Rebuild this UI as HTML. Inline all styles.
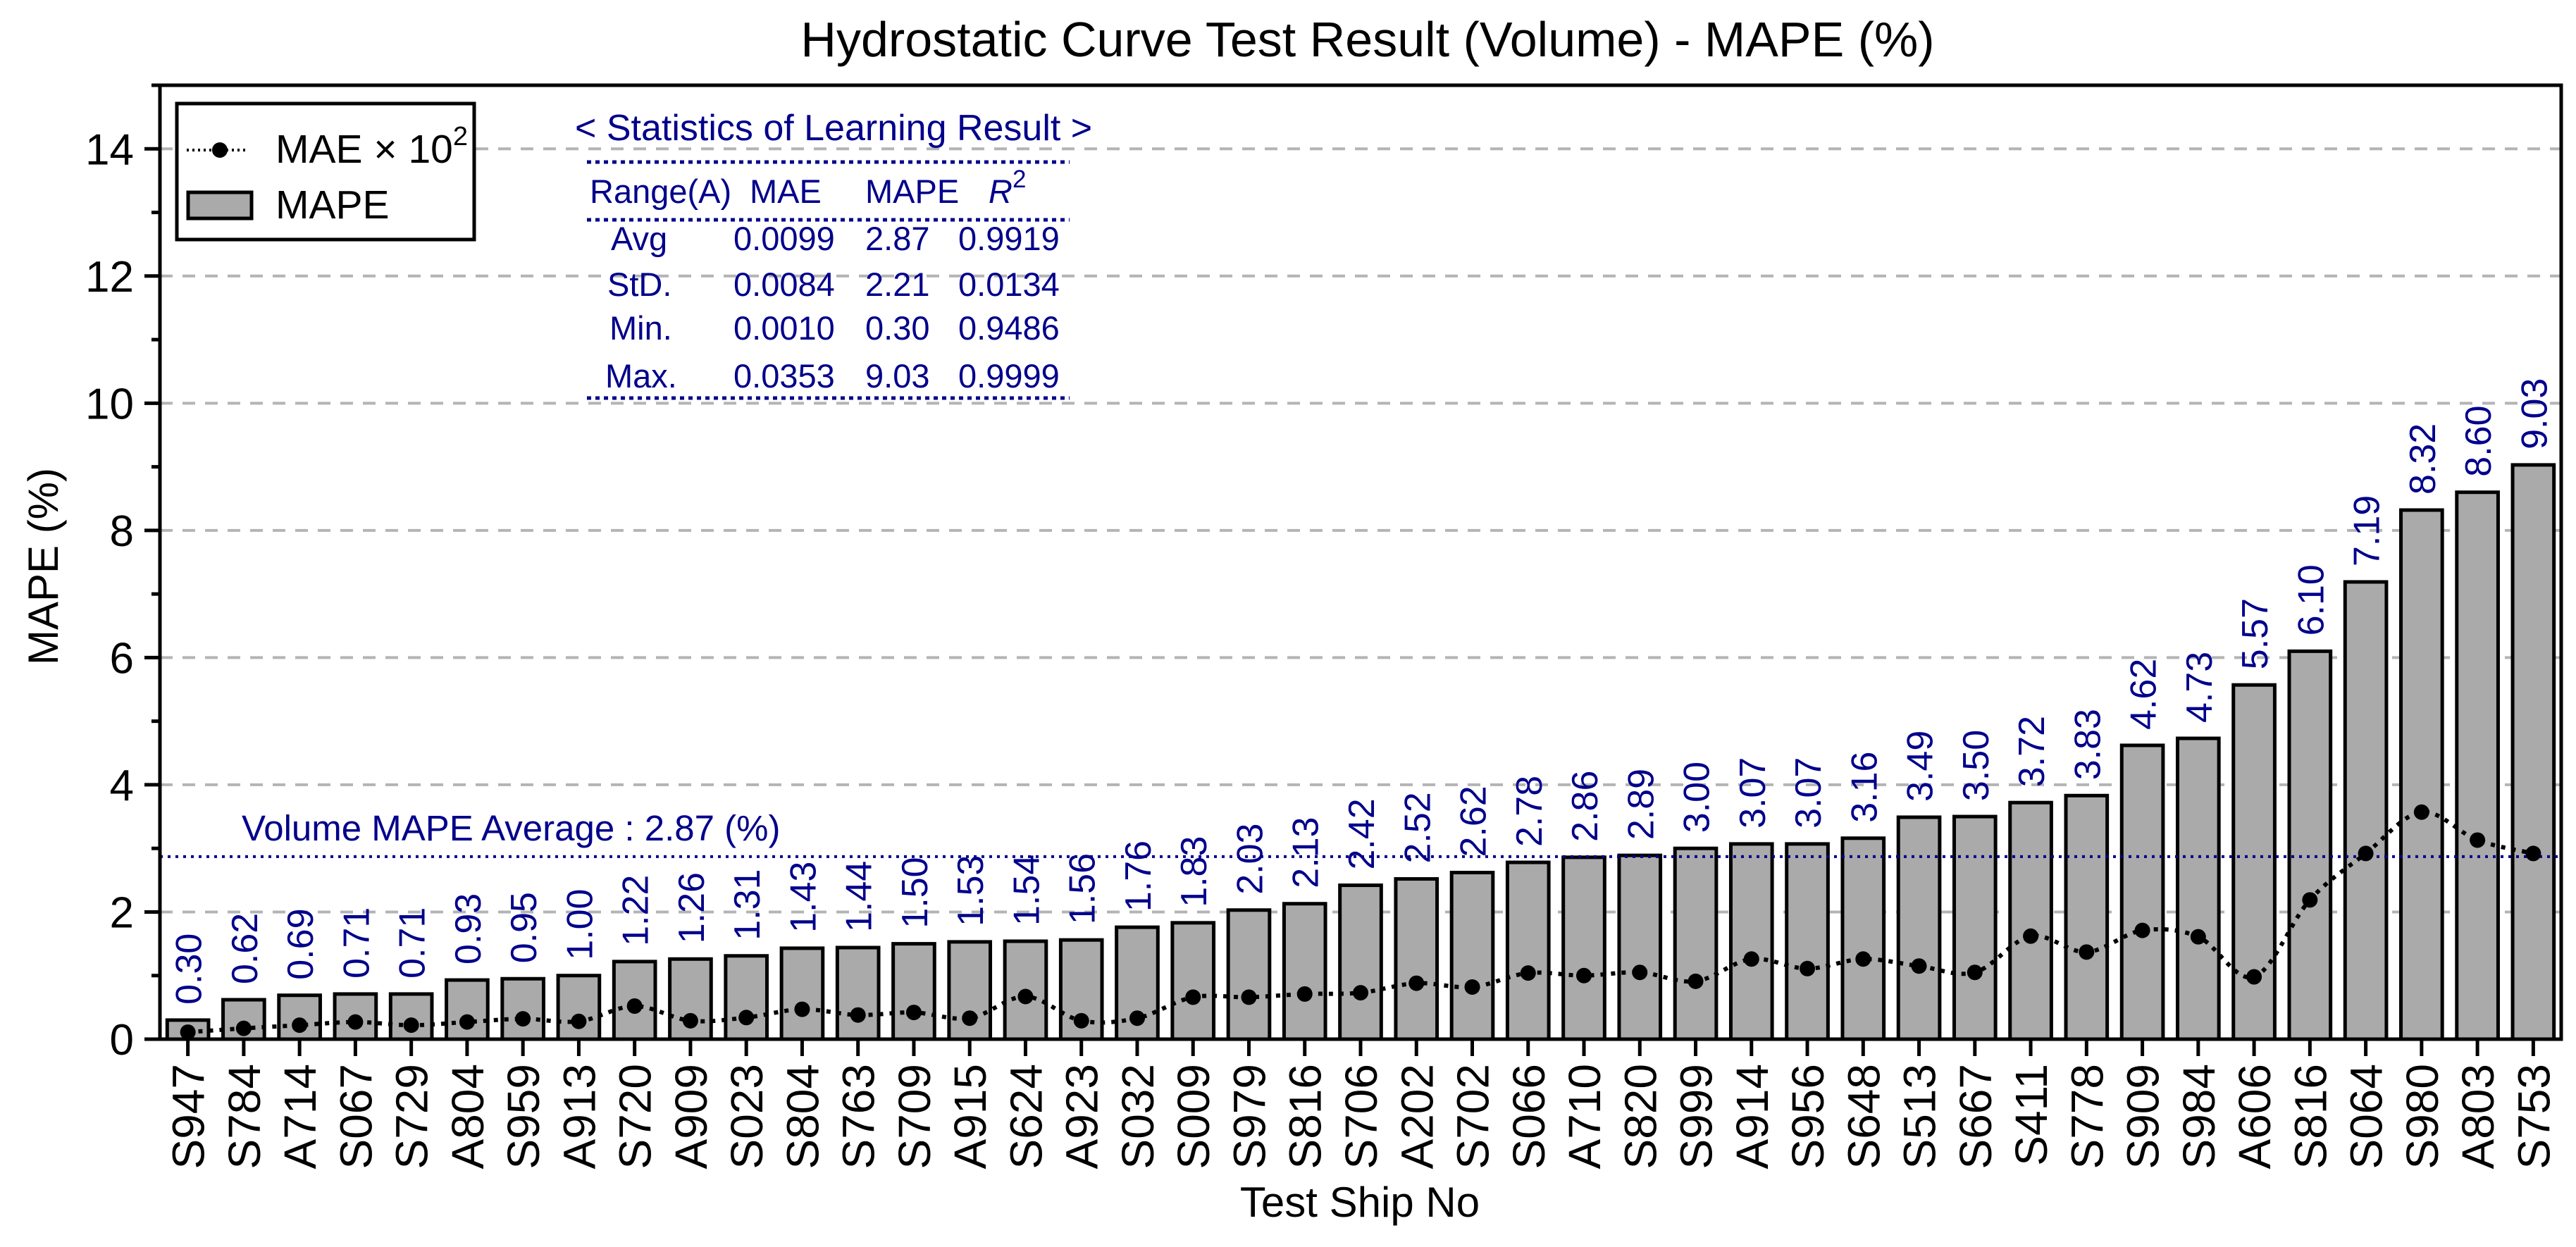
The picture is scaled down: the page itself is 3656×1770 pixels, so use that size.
<!DOCTYPE html>
<html><head><meta charset="utf-8"><style>
html,body{margin:0;padding:0;background:#fff}
svg{display:block;font-family:"Liberation Sans",Arial,sans-serif}
</style></head><body>
<svg id="chart" width="3656" height="1770" viewBox="0 0 3656 1770" xmlns="http://www.w3.org/2000/svg">
<rect x="0" y="0" width="3656" height="1770" fill="#fff"/>
<text x="1941" y="80" font-size="70" text-anchor="middle" fill="#000">Hydrostatic Curve Test Result (Volume) - MAPE (%)</text>
<g id="grid"></g>
<g id="bars"></g>
<g id="avg"></g>
<g id="mae"></g>
<g id="labels"></g>
<g id="axes"></g>
<text transform="translate(82,804) rotate(-90)" font-size="60" text-anchor="middle">MAPE (%)</text>
<text x="1930" y="1727" font-size="60" text-anchor="middle">Test Ship No</text>
<g>
<rect x="251" y="147" width="422" height="193" fill="#fff" stroke="#000" stroke-width="5"/>
<line x1="265" y1="213" x2="352" y2="213" stroke="#000" stroke-width="4" stroke-dasharray="3,5"/>
<circle cx="312" cy="213" r="11" fill="#000"/>
<text x="391" y="231" font-size="57">MAE × 10<tspan dy="-25" font-size="38">2</tspan></text>
<rect x="267" y="273" width="90" height="37" fill="#aaa" stroke="#000" stroke-width="5"/>
<text x="391" y="310" font-size="57">MAPE</text>
</g>
<g fill="#00008B" font-size="47">
<text x="816" y="199" font-size="52">&lt; Statistics of Learning Result &gt;</text>
<line x1="833" y1="230" x2="1518" y2="230" stroke="#00008B" stroke-width="5" stroke-dasharray="6,6"/>
<text x="837" y="288">Range(A)</text><text x="1064" y="288">MAE</text><text x="1228" y="288">MAPE</text><text x="1403" y="288" font-style="italic">R<tspan dy="-22" font-size="35" font-style="normal">2</tspan></text>
<line x1="833" y1="312" x2="1518" y2="312" stroke="#00008B" stroke-width="5" stroke-dasharray="6,6"/>
<text x="867" y="355">Avg</text><text x="1041" y="355">0.0099</text><text x="1228" y="355">2.87</text><text x="1360" y="355">0.9919</text>
<text x="862" y="420">StD.</text><text x="1041" y="420">0.0084</text><text x="1228" y="420">2.21</text><text x="1360" y="420">0.0134</text>
<text x="865" y="482">Min.</text><text x="1041" y="482">0.0010</text><text x="1228" y="482">0.30</text><text x="1360" y="482">0.9486</text>
<text x="859" y="550">Max.</text><text x="1041" y="550">0.0353</text><text x="1228" y="550">9.03</text><text x="1360" y="550">0.9999</text>
<line x1="833" y1="565" x2="1518" y2="565" stroke="#00008B" stroke-width="5" stroke-dasharray="6,6"/>
</g>
</svg>
<script>
const categories=["S947","S784","A714","S067","S729","A804","S959","A913","S720","A909","S023","S804","S763","S709","A915","S624","A923","S032","S009","S979","S816","S706","A202","S702","S066","A710","S820","S999","A914","S956","S648","S513","S667","S411","S778","S909","S984","A606","S816","S064","S980","A803","S753"];
const mapeValues=[0.30,0.62,0.69,0.71,0.71,0.93,0.95,1.00,1.22,1.26,1.31,1.43,1.44,1.50,1.53,1.54,1.56,1.76,1.83,2.03,2.13,2.42,2.52,2.62,2.78,2.86,2.89,3.00,3.07,3.07,3.16,3.49,3.50,3.72,3.83,4.62,4.73,5.57,6.10,7.19,8.32,8.60,9.03];
const maeValues=[0.11,0.17,0.22,0.27,0.22,0.27,0.32,0.28,0.52,0.29,0.34,0.47,0.38,0.42,0.33,0.67,0.29,0.33,0.66,0.66,0.71,0.73,0.88,0.82,1.04,1.00,1.05,0.91,1.26,1.11,1.26,1.15,1.05,1.62,1.37,1.71,1.61,0.98,2.19,2.92,3.57,3.13,2.92];
const yTicks=[0,2,4,6,8,10,12,14];
const avgValue=2.87;
const NS="http://www.w3.org/2000/svg";
const L=227,R=3635,T=121,B=1475,YMAX=15;
const band=(R-L)/categories.length;
const xs=i=>L+band*(i+0.5);
const ys=v=>B-(B-T)*v/YMAX;
function mk(tag,attrs,parent){const e=document.createElementNS(NS,tag);for(const k in attrs)e.setAttribute(k,attrs[k]);parent.appendChild(e);return e;}
const G=id=>document.getElementById(id);
yTicks.forEach(v=>{if(v===0)return;
 const l=mk('line',{x1:L,x2:R,y1:ys(v),y2:ys(v),stroke:'#b4b4b4','stroke-width':4,'stroke-dasharray':'18,14'},G('grid'));
 
 });
const bw=band*0.74;
mapeValues.forEach((v,i)=>{
 const r=mk('rect',{x:xs(i)-bw/2,y:ys(v),width:bw,height:B-ys(v),fill:'#aaa',stroke:'#000','stroke-width':5},G('bars'));
 
 
 const t=mk('text',{transform:`translate(${xs(i)+19},${ys(v)-22}) rotate(-90)`,'font-size':52,fill:'#00008B'},G('labels'));
 t.textContent=v.toFixed(2);
 
 
});
const al=mk('line',{x1:L,x2:R,y1:ys(avgValue),y2:ys(avgValue),stroke:'#00008B','stroke-width':4,'stroke-dasharray':'4,7'},G('avg'));


const at=mk('text',{x:343,y:1193,'font-size':51,fill:'#00008B'},G('avg'));
at.textContent='Volume MAPE Average : '+avgValue.toFixed(2)+' (%)';


const pts=maeValues.map((v,i)=>[xs(i),ys(v)]);
let d=`M${pts[0][0]},${pts[0][1]}`;
for(let i=0;i<pts.length-1;i++){const p0=pts[Math.max(0,i-1)],p1=pts[i],p2=pts[i+1],p3=pts[Math.min(pts.length-1,i+2)];
 d+=` C${p1[0]+(p2[0]-p0[0])/6},${p1[1]+(p2[1]-p0[1])/6} ${p2[0]-(p3[0]-p1[0])/6},${p2[1]-(p3[1]-p1[1])/6} ${p2[0]},${p2[1]}`;}
const ml=mk('path',{d:d,fill:'none',stroke:'#000','stroke-width':6,'stroke-dasharray':'6,9'},G('mae'));


pts.forEach((p,i)=>{const c=mk('circle',{cx:p[0],cy:p[1],r:11,fill:'#000'},G('mae'));
 
 });
const ax=G('axes');
const fr=mk('rect',{x:L,y:T,width:R-L,height:B-T,fill:'none',stroke:'#000','stroke-width':5},ax);


for(let v=0;v<=YMAX;v++){const major=yTicks.includes(v);
 const tk=mk('line',{x1:L-(major?22:12),x2:L,y1:ys(v),y2:ys(v),stroke:'#000','stroke-width':5},ax);
 
 }
yTicks.forEach(v=>{const t=mk('text',{x:190,y:ys(v)+22,'font-size':62,'text-anchor':'end'},ax);
 t.textContent=v;
 
 });
categories.forEach((c,i)=>{
 const tk=mk('line',{x1:xs(i),x2:xs(i),y1:B,y2:B+24,stroke:'#000','stroke-width':5},ax);
 
 
 const t=mk('text',{transform:`translate(${xs(i)+23},1510) rotate(-90)`,'font-size':64,'text-anchor':'end'},ax);
 t.textContent=c;
 
 
});
</script>
</body></html>
